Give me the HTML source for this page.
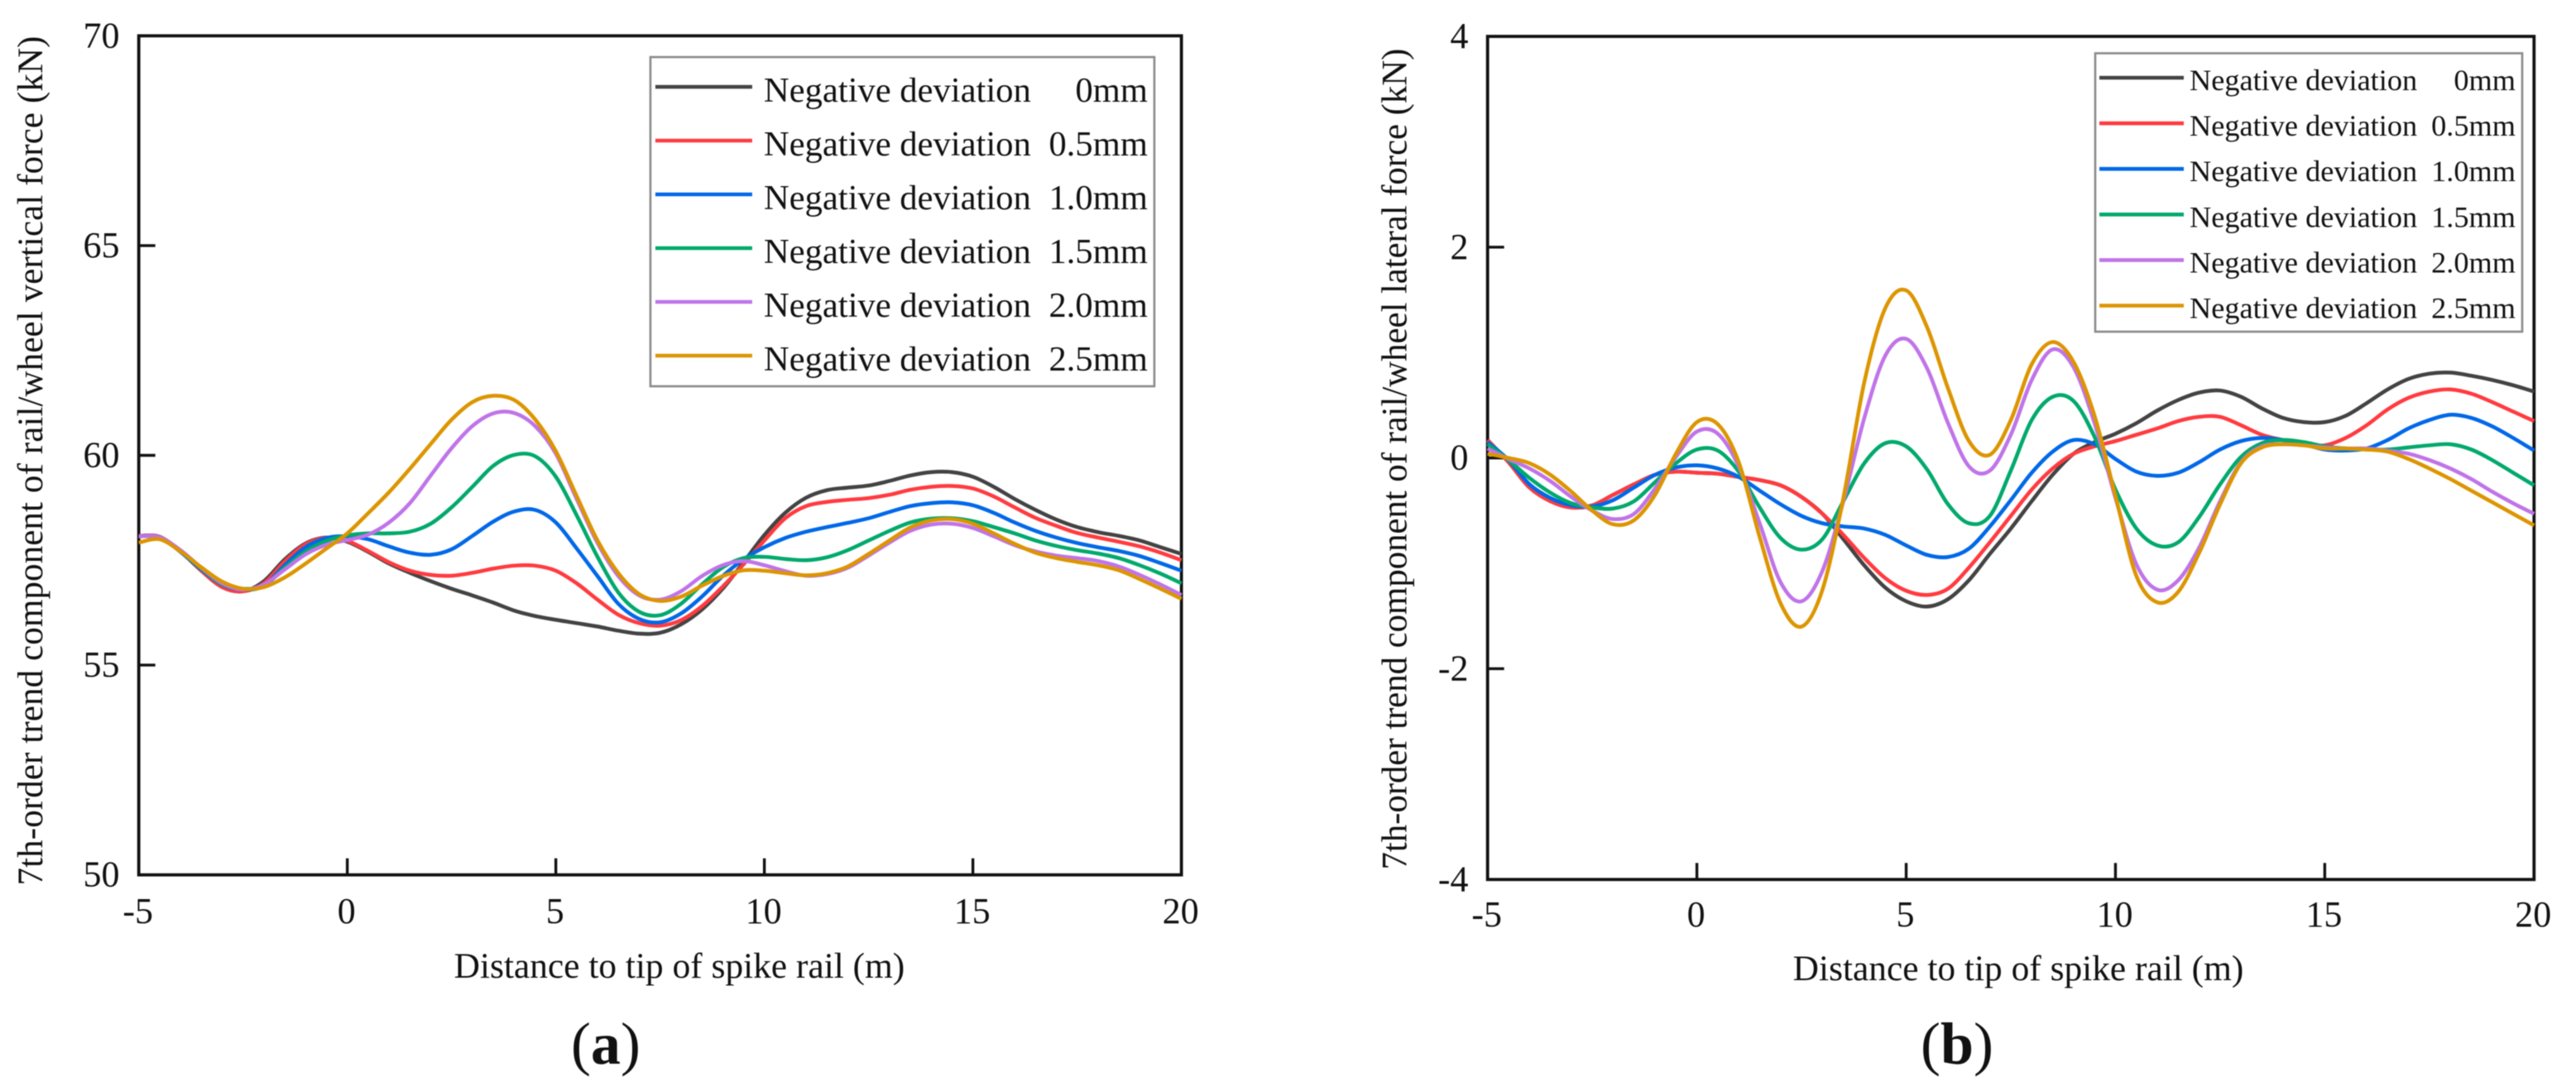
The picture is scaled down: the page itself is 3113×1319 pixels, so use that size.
<!DOCTYPE html>
<html lang="en">
<head>
<meta charset="utf-8">
<title>7th-order trend components of rail/wheel force</title>
<style>
html,body{margin:0;padding:0;background:#fff;width:3113px;height:1319px;overflow:hidden}
svg{display:block;filter:blur(0.6px)}
text{font-family:"Liberation Serif","Times New Roman",serif;fill:#111}
</style>
</head>
<body>
<svg id="figure" xmlns="http://www.w3.org/2000/svg" width="3113" height="1319" viewBox="0 0 3113 1319"></svg>
<script>
const distances = [-5,-4.5,-4,-3.5,-3,-2.5,-2,-1.5,-1,-0.5,0,0.5,1,1.5,2,2.5,3,3.5,4,4.5,5,5.5,6,6.5,7,7.5,8,8.5,9,9.5,10,10.5,11,11.5,12,12.5,13,13.5,14,14.5,15,15.5,16,16.5,17,17.5,18,18.5,19,19.5,20];

const seriesNames = ['0mm','0.5mm','1.0mm','1.5mm','2.0mm','2.5mm'];
const xTickLabels = [-5,0,5,10,15,20];
const yTicksVertical = [50,55,60,65,70];
const yTicksLateral = [-4,-2,0,2,4];

const vertical0 = [58.08,58.06,57.71,57.25,56.86,56.76,57.00,57.52,57.90,58.04,57.94,57.70,57.42,57.20,57.00,56.82,56.66,56.49,56.30,56.17,56.08,56.00,55.92,55.82,55.75,55.77,55.97,56.32,56.82,57.45,58.10,58.63,58.99,59.17,59.23,59.28,59.39,59.52,59.60,59.60,59.49,59.25,58.96,58.70,58.47,58.29,58.17,58.08,57.97,57.81,57.65];
const vertical05 = [58.08,58.06,57.71,57.25,56.86,56.76,56.95,57.47,57.88,58.03,57.96,57.72,57.45,57.25,57.15,57.13,57.20,57.30,57.37,57.37,57.25,56.95,56.56,56.20,56.00,55.94,56.07,56.40,56.87,57.40,57.97,58.50,58.79,58.89,58.94,58.98,59.06,59.18,59.25,59.27,59.21,59.02,58.76,58.51,58.32,58.15,58.04,57.94,57.83,57.68,57.50];
const vertical10 = [58.07,58.05,57.70,57.28,56.92,56.80,56.89,57.38,57.81,58.03,58.07,58.00,57.83,57.68,57.63,57.76,58.08,58.42,58.66,58.70,58.40,57.78,57.12,56.46,56.10,56.02,56.23,56.63,57.12,57.52,57.81,58.03,58.18,58.29,58.39,58.50,58.65,58.79,58.86,58.88,58.81,58.63,58.40,58.20,58.04,57.91,57.81,57.72,57.60,57.43,57.25];
const vertical15 = [58.07,58.05,57.72,57.30,56.93,56.82,56.89,57.32,57.71,57.96,58.09,58.14,58.14,58.18,58.37,58.76,59.25,59.75,60.01,59.98,59.49,58.57,57.58,56.73,56.27,56.19,56.46,56.92,57.33,57.55,57.58,57.53,57.50,57.57,57.74,57.97,58.20,58.40,58.49,58.50,58.43,58.29,58.14,57.97,57.84,57.74,57.66,57.55,57.38,57.18,56.95];
const vertical20 = [58.07,58.05,57.74,57.32,56.95,56.80,56.92,57.28,57.64,57.87,57.98,58.11,58.40,58.86,59.52,60.17,60.70,61.00,61.01,60.70,60.04,58.96,57.91,57.12,56.66,56.56,56.76,57.12,57.38,57.48,57.38,57.24,57.13,57.17,57.32,57.61,57.92,58.20,58.35,58.37,58.27,58.07,57.86,57.71,57.61,57.55,57.48,57.35,57.15,56.92,56.67];
const vertical25 = [57.92,58.00,57.71,57.33,56.99,56.82,56.86,57.09,57.42,57.78,58.14,58.62,59.12,59.68,60.27,60.85,61.27,61.42,61.32,60.86,60.10,59.03,57.97,57.19,56.69,56.53,56.63,56.89,57.12,57.26,57.25,57.19,57.14,57.19,57.35,57.65,57.97,58.28,58.45,58.48,58.37,58.14,57.89,57.68,57.55,57.46,57.38,57.26,57.05,56.82,56.58];

const lateral0 = [0.17,-0.04,-0.28,-0.41,-0.47,-0.45,-0.35,-0.25,-0.16,-0.13,-0.14,-0.15,-0.18,-0.21,-0.26,-0.37,-0.53,-0.77,-1.02,-1.23,-1.36,-1.41,-1.34,-1.16,-0.91,-0.67,-0.41,-0.16,0.04,0.15,0.23,0.33,0.45,0.55,0.62,0.64,0.58,0.47,0.38,0.34,0.34,0.40,0.52,0.65,0.75,0.80,0.81,0.78,0.74,0.69,0.63];
const lateral05 = [0.17,-0.04,-0.28,-0.41,-0.47,-0.45,-0.35,-0.25,-0.16,-0.13,-0.14,-0.15,-0.18,-0.21,-0.26,-0.37,-0.53,-0.73,-0.95,-1.14,-1.26,-1.30,-1.24,-1.04,-0.80,-0.55,-0.30,-0.10,0.04,0.11,0.16,0.22,0.28,0.35,0.39,0.39,0.31,0.22,0.17,0.13,0.12,0.19,0.31,0.46,0.57,0.63,0.65,0.61,0.53,0.44,0.35];
const lateral10 = [0.15,-0.02,-0.25,-0.38,-0.45,-0.46,-0.40,-0.28,-0.16,-0.09,-0.07,-0.10,-0.18,-0.31,-0.44,-0.55,-0.62,-0.65,-0.67,-0.73,-0.83,-0.92,-0.94,-0.86,-0.65,-0.40,-0.14,0.06,0.17,0.13,-0.01,-0.13,-0.17,-0.14,-0.04,0.08,0.16,0.19,0.17,0.13,0.08,0.07,0.09,0.17,0.28,0.36,0.41,0.38,0.30,0.19,0.07];
const lateral15 = [0.13,-0.02,-0.19,-0.33,-0.43,-0.47,-0.48,-0.41,-0.23,-0.05,0.08,0.07,-0.13,-0.47,-0.76,-0.87,-0.77,-0.41,-0.05,0.14,0.11,-0.11,-0.44,-0.62,-0.55,-0.12,0.36,0.58,0.54,0.20,-0.30,-0.67,-0.83,-0.80,-0.56,-0.25,0.01,0.14,0.17,0.15,0.11,0.09,0.08,0.08,0.10,0.12,0.13,0.08,-0.02,-0.14,-0.26];
const lateral20 = [0.09,-0.01,-0.10,-0.22,-0.37,-0.50,-0.58,-0.53,-0.29,0.01,0.25,0.23,-0.08,-0.62,-1.18,-1.36,-1.07,-0.41,0.38,0.97,1.13,0.85,0.33,-0.08,-0.12,0.22,0.74,1.03,0.86,0.33,-0.38,-1.01,-1.25,-1.16,-0.85,-0.41,-0.04,0.11,0.13,0.12,0.10,0.09,0.09,0.07,0.04,-0.02,-0.10,-0.20,-0.32,-0.43,-0.53];
const lateral25 = [0.04,0.00,-0.05,-0.16,-0.32,-0.50,-0.63,-0.59,-0.35,0.04,0.34,0.32,-0.04,-0.75,-1.38,-1.60,-1.25,-0.38,0.72,1.42,1.59,1.24,0.66,0.16,0.03,0.36,0.89,1.10,0.91,0.40,-0.36,-1.12,-1.37,-1.27,-0.90,-0.44,-0.05,0.10,0.13,0.12,0.09,0.09,0.08,0.06,-0.01,-0.10,-0.20,-0.31,-0.42,-0.53,-0.64];

const verticalSeries = [vertical0,vertical05,vertical10,vertical15,vertical20,vertical25];
const lateralSeries = [lateral0,lateral05,lateral10,lateral15,lateral20,lateral25];

const colors = ['#434343','#ff3b40','#0068e8','#00a96c','#c074e8','#dc9500'];
const NS = 'http://www.w3.org/2000/svg';
const figure = document.getElementById('figure');

function make(parent, tag, attrs, content) {
  const el = document.createElementNS(NS, tag);
  for (const k in attrs) el.setAttribute(k, attrs[k]);
  if (content !== undefined) el.textContent = content;
  parent.appendChild(el);
  return el;
}

function smoothPath(pts) {
  let d = 'M' + pts[0][0].toFixed(2) + ' ' + pts[0][1].toFixed(2);
  for (let i = 0; i < pts.length - 1; i++) {
    const p0 = pts[Math.max(i - 1, 0)];
    const p1 = pts[i];
    const p2 = pts[i + 1];
    const p3 = pts[Math.min(i + 2, pts.length - 1)];
    const c1x = p1[0] + (p2[0] - p0[0]) / 6;
    const c1y = p1[1] + (p2[1] - p0[1]) / 6;
    const c2x = p2[0] - (p3[0] - p1[0]) / 6;
    const c2y = p2[1] - (p3[1] - p1[1]) / 6;
    d += 'C' + c1x.toFixed(2) + ' ' + c1y.toFixed(2) + ' ' + c2x.toFixed(2) + ' ' + c2y.toFixed(2) + ' ' + p2[0].toFixed(2) + ' ' + p2[1].toFixed(2);
  }
  return d;
}

function drawChart(cfg) {
  const g = make(figure, 'g', {});
  
  

  const xMin = xTickLabels[0];
  const xMax = xTickLabels[xTickLabels.length - 1];
  const yMin = cfg.yTicks[0];
  const yMax = cfg.yTicks[cfg.yTicks.length - 1];
  const sx = v => cfg.left + (v - xMin) / (xMax - xMin) * (cfg.right - cfg.left);
  const sy = v => cfg.bottom - (v - yMin) / (yMax - yMin) * (cfg.bottom - cfg.top);

  const frame = make(g, 'rect', {x: cfg.left, y: cfg.top, width: cfg.right - cfg.left, height: cfg.bottom - cfg.top, fill: 'none', stroke: '#111', 'stroke-width': 3.8});
  
  

  xTickLabels.forEach(v => {
    if (v !== xMin && v !== xMax) {
      const t = make(g, 'line', {x1: sx(v), x2: sx(v), y1: cfg.bottom, y2: cfg.bottom - 20, stroke: '#111', 'stroke-width': 3.4});
      
      
    }
    const lab = make(g, 'text', {x: sx(v) - 1, y: cfg.xLabelBase, 'text-anchor': 'middle', 'font-size': 44}, String(v));
    
    
  });

  cfg.yTicks.forEach(v => {
    if (v !== yMin && v !== yMax) {
      const t = make(g, 'line', {x1: cfg.left, x2: cfg.left + 20, y1: sy(v), y2: sy(v), stroke: '#111', 'stroke-width': 3.4});
      
      
    }
    const lab = make(g, 'text', {x: cfg.yLabelRight, y: sy(v) + 14, 'text-anchor': 'end', 'font-size': 44}, String(v));
    
    
  });

  const xTitle = make(g, 'text', {x: cfg.xTitleX, y: cfg.xTitleY, 'text-anchor': 'middle', 'font-size': 43.4}, 'Distance to tip of spike rail (m)');
  
  

  const yTitle = make(g, 'text', {
    x: 0, y: 0, 'text-anchor': 'middle', 'font-size': cfg.yTitleSize,
    textLength: cfg.yTitleLength, lengthAdjust: 'spacing',
    transform: 'translate(' + cfg.yTitleX + ' ' + cfg.yTitleY + ') rotate(-90)'
  }, cfg.yTitle);
  
  

  cfg.series.forEach((vals, i) => {
    const pts = vals.map((v, j) => [sx(distances[j]), sy(v)]);
    const line = make(g, 'path', {d: smoothPath(pts), fill: 'none', stroke: colors[i], 'stroke-width': 4.6, 'stroke-linejoin': 'round'});
    
    
  });

  const lg = make(g, 'g', {});
  
  
  const box = make(lg, 'rect', {x: cfg.lgLeft, y: cfg.lgTop, width: cfg.lgRight - cfg.lgLeft, height: cfg.lgBottom - cfg.lgTop, fill: '#fff', stroke: '#8a8a8a', 'stroke-width': 2.6});
  
  
  seriesNames.forEach((n, i) => {
    const y = cfg.lgFirst + i * cfg.lgStep;
    const key = make(lg, 'line', {x1: cfg.lgLineA, x2: cfg.lgLineB, y1: y, y2: y, stroke: colors[i], 'stroke-width': 4.6});
    
    
    const label = make(lg, 'text', {x: cfg.lgTextX, y: y + cfg.lgBase, 'font-size': cfg.lgFont}, 'Negative deviation');
    
    
    const amount = make(lg, 'text', {x: cfg.lgTextEnd, y: y + cfg.lgBase, 'text-anchor': 'end', 'font-size': cfg.lgFont}, n);
    
    
  });
}

drawChart({
  name: 'vertical-force-chart', series: verticalSeries, yTicks: yTicksVertical,
  left: 167.7, right: 1427.7, top: 43.3, bottom: 1057.7,
  xLabelBase: 1116, yLabelRight: 144.5, xTitleX: 821, xTitleY: 1182,
  yTitle: '7th-order trend component of rail/wheel vertical force (kN)',
  yTitleX: 51, yTitleY: 557, yTitleLength: 1027, yTitleSize: 43,
  lgLeft: 786, lgRight: 1395, lgTop: 69, lgBottom: 467,
  lgFirst: 105, lgStep: 65, lgLineA: 792, lgLineB: 909, lgTextX: 923, lgTextEnd: 1387, lgBase: 18, lgFont: 42.6
});

drawChart({
  name: 'lateral-force-chart', series: lateralSeries, yTicks: yTicksLateral,
  left: 1797.7, right: 3062.3, top: 44, bottom: 1063.3,
  xLabelBase: 1120, yLabelRight: 1774.5, xTitleX: 2439, xTitleY: 1185,
  yTitle: '7th-order trend component of rail/wheel lateral force (kN)',
  yTitleX: 1699.5, yTitleY: 555, yTitleLength: 993, yTitleSize: 43,
  lgLeft: 2532, lgRight: 3048, lgTop: 64.4, lgBottom: 401,
  lgFirst: 94, lgStep: 55.1, lgLineA: 2537, lgLineB: 2639, lgTextX: 2646, lgTextEnd: 3040, lgBase: 15, lgFont: 36.3
});

const captions = [['(', 'a', ')', 732], ['(', 'b', ')', 2365]];
captions.forEach(c => {
  const t = make(figure, 'text', {x: c[3], y: 1286, 'text-anchor': 'middle', 'font-size': 72});
  
  
  make(t, 'tspan', {}, c[0]);
  make(t, 'tspan', {'font-weight': 'bold'}, c[1]);
  make(t, 'tspan', {}, c[2]);
});
</script>
</body>
</html>
